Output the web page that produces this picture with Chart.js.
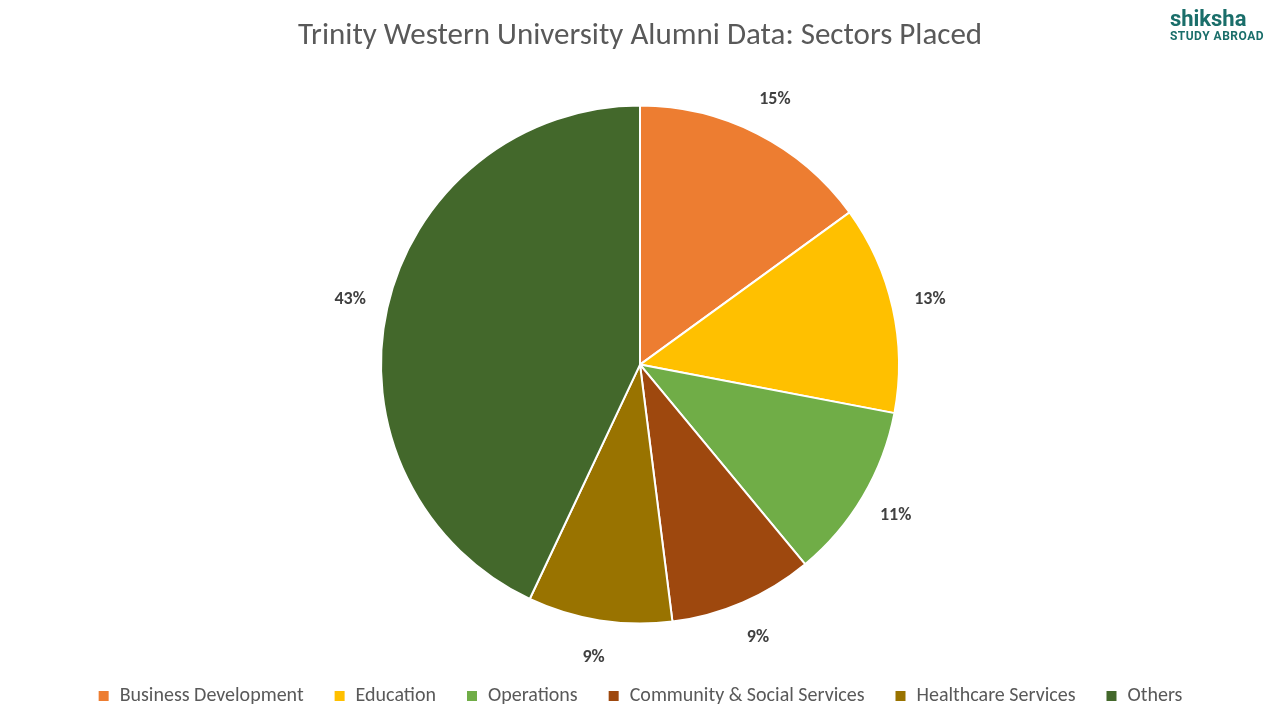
<!DOCTYPE html>
<html>
<head>
<meta charset="utf-8">
<script src="https://cdn.jsdelivr.net/npm/chart.js@4"></script>
<style>
  html, body { margin: 0; padding: 0; background: #fff; }
  #wrap { position: relative; width: 1280px; height: 720px; }
  #logo { position: absolute; right: 16px; top: 8px; font-family: "Roboto", sans-serif; color: #1a6e6a; line-height: 1; }
  #logo .a { font-size: 22px; font-weight: bold; }
  #logo .b { font-size: 12px; font-weight: bold; letter-spacing: 0.5px; }
</style>
</head>
<body>
<div id="wrap">
  <canvas id="chart" width="1280" height="720"></canvas>
  <div id="logo"><div class="a">shiksha</div><div class="b">STUDY ABROAD</div></div>
</div>
<script>
// sectors and shares
const sectors = ['Business Development', 'Education', 'Operations', 'Community & Social Services', 'Healthcare Services', 'Others'];
const shares = [15, 13, 11, 9, 9, 43];
const sliceColors = ['#ED7D31', '#FFC000', '#70AD47', '#9E480E', '#997300', '#43682B'];

// draw percentage labels outside each slice
const outsideLabels = {
    id: 'outsideLabels',
    afterDatasetsDraw(chart) {
        const ctx = chart.ctx;
        const meta = chart.getDatasetMeta(0);
        ctx.save();
        ctx.font = 'bold 18px Calibri, Lato, sans-serif';
        ctx.fillStyle = '#404040';
        ctx.textAlign = 'center';
        ctx.textBaseline = 'middle';
        meta.data.forEach(function(arc, i) {
            const mid = (arc.startAngle + arc.endAngle) / 2;
            const r = arc.outerRadius + 38;
            ctx.fillText(shares[i] + '%', arc.x + Math.cos(mid) * r, arc.y + Math.sin(mid) * r);
        });
        ctx.restore();
    }
};

new Chart(document.getElementById('chart'), {
    type: 'pie',
    data: {
        labels: sectors,
        datasets: [{
            data: shares,
            backgroundColor: sliceColors,
            borderColor: '#ffffff',
            borderWidth: 2
        }]
    },
    options: {
        responsive: false,
        animation: false,
        radius: 259,
        layout: { padding: { top: 18, bottom: 4 } },
        plugins: {
            title: {
                display: true,
                text: 'Trinity Western University Alumni Data: Sectors Placed',
                color: '#595959',
                font: { size: 31, family: 'Calibri, Lato, sans-serif', weight: 'normal' },
                padding: { top: 0, bottom: 18 }
            },
            legend: {
                position: 'bottom',
                labels: {
                    boxWidth: 12,
                    boxHeight: 12,
                    padding: 30,
                    color: '#595959',
                    font: { size: 20, family: 'Calibri, Lato, sans-serif' }
                }
            },
            tooltip: { enabled: false }
        }
    },
    plugins: [outsideLabels]
});
</script>
</body>
</html>
